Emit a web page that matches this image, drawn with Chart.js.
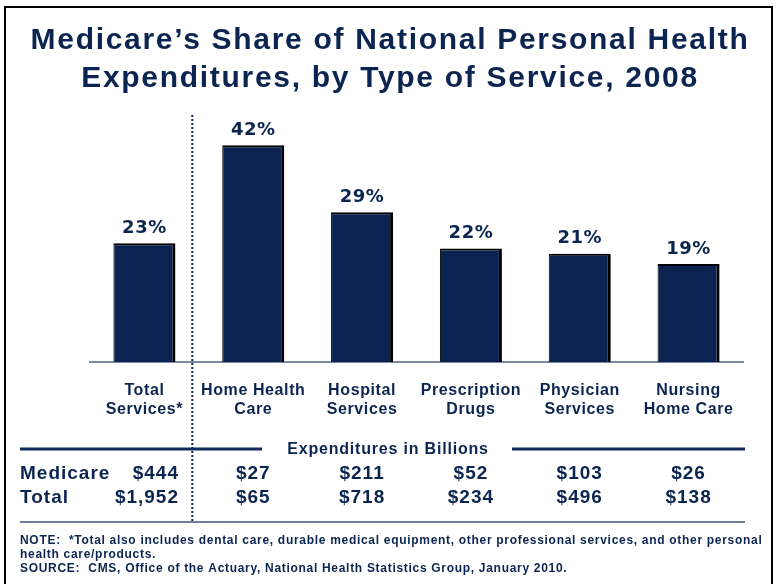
<!DOCTYPE html>
<html>
<head>
<meta charset="utf-8">
<title>Medicare's Share of National Personal Health Expenditures, 2008</title>
<script src="https://cdn.jsdelivr.net/npm/chart.js@4.4.1/dist/chart.umd.min.js"></script>
<style>
  html, body { margin: 0; padding: 0; background: #ffffff; }
  #wrap { position: relative; width: 776px; height: 584px; }
  canvas { display: block; }
</style>
</head>
<body>
<div id="wrap"><canvas id="chart" width="776" height="584"></canvas></div>
<script>
// Service categories (two-line axis labels)
const categories = [
  ['Total', 'Services*'],
  ['Home Health', 'Care'],
  ['Hospital', 'Services'],
  ['Prescription', 'Drugs'],
  ['Physician', 'Services'],
  ['Nursing', 'Home Care']
];
// Medicare share of spending, percent
const medicareShare = [23, 42, 29, 22, 21, 19];
// Expenditures in billions of dollars
const medicareSpending = [444, 27, 211, 52, 103, 26];
const totalSpending = [1952, 65, 718, 234, 496, 138];

const titleLines = [
  'Medicare\u2019s Share of National Personal Health',
  'Expenditures, by Type of Service, 2008'
];
const noteLines = [
  'NOTE:  *Total also includes dental care, durable medical equipment, other professional services, and other personal',
  'health care/products.',
  'SOURCE:  CMS, Office of the Actuary, National Health Statistics Group, January 2010.'
];

const NAVY = '#0b2550';
const BAR = '#0a2350';
const FONT = '"Liberation Sans", Arial, sans-serif';

const money = v => '$' + v.toLocaleString('en-US');

// slightly spaced lettering for the axis labels
const spacing = {
  id: 'spacing',
  beforeDraw(chart) { chart.ctx.letterSpacing = '0.6px'; }
};

const decorations = {
  id: 'decorations',
  afterDraw(chart) {
    const ctx = chart.ctx;
    const xs = chart.scales.x;
    ctx.save();

    // outer frame
    ctx.letterSpacing = '0px';
    ctx.strokeStyle = '#000000';
    ctx.lineWidth = 2;
    ctx.beginPath();
    ctx.moveTo(5, 600);
    ctx.lineTo(5, 7);
    ctx.lineTo(772, 7);
    ctx.lineTo(772, 600);
    ctx.stroke();

    // title
    ctx.fillStyle = NAVY;
    ctx.textAlign = 'center';
    ctx.textBaseline = 'middle';
    ctx.font = 'bold 30px ' + FONT;
    ctx.letterSpacing = '1.7px';
    ctx.fillText(titleLines[0], 390, 41);
    ctx.fillText(titleLines[1], 390, 79);

    // percentage labels above bars
    ctx.letterSpacing = '0.5px';
    ctx.font = 'bold 18px "DejaVu Sans", sans-serif';
    chart.getDatasetMeta(0).data.forEach((bar, i) => {
      ctx.fillText(medicareShare[i] + '%', bar.x, bar.y - 15);
    });

    // dotted divider between total and individual services
    const divX = xs.getPixelForValue(0) + (xs.getPixelForValue(1) - xs.getPixelForValue(0)) * 0.44;
    ctx.strokeStyle = NAVY;
    ctx.lineWidth = 2;
    ctx.setLineDash([2, 2]);
    ctx.beginPath();
    ctx.moveTo(divX, 115);
    ctx.lineTo(divX, 521);
    ctx.stroke();
    ctx.setLineDash([]);

    // table header rule with caption
    ctx.strokeStyle = '#0d2a5a';
    ctx.lineWidth = 3;
    ctx.beginPath();
    ctx.moveTo(20, 449); ctx.lineTo(262, 449);
    ctx.moveTo(512, 449); ctx.lineTo(745, 449);
    ctx.stroke();
    ctx.font = 'bold 16px ' + FONT;
    ctx.letterSpacing = '0.8px';
    ctx.fillText('Expenditures in Billions', 388, 450);

    // table rows
    const rows = [['Medicare', medicareSpending, 474], ['Total', totalSpending, 498]];
    ctx.font = 'bold 19px ' + FONT;
    ctx.letterSpacing = '1px';
    rows.forEach(([name, vals, y]) => {
      ctx.textAlign = 'left';
      ctx.fillText(name, 20, y);
      vals.forEach((v, i) => {
        if (i === 0) {
          ctx.textAlign = 'right';
          ctx.fillText(money(v), 179, y);
        } else {
          ctx.textAlign = 'center';
          ctx.fillText(money(v), xs.getPixelForValue(i), y);
        }
      });
    });

    // table bottom rule
    ctx.strokeStyle = '#6d7f99';
    ctx.lineWidth = 2;
    ctx.beginPath();
    ctx.moveTo(20, 522); ctx.lineTo(745, 522);
    ctx.stroke();

    // notes
    ctx.textAlign = 'left';
    ctx.font = 'bold 12px ' + FONT;
    ctx.letterSpacing = '0.7px';
    noteLines.forEach((t, i) => ctx.fillText(t, 20, 541 + i * 14));

    ctx.restore();
  }
};

new Chart(document.getElementById('chart'), {
  type: 'bar',
  data: {
    labels: categories,
    datasets: [{
      data: medicareShare,
      backgroundColor: BAR,
      borderColor: '#000000',
      borderWidth: { top: 2, right: 3, left: 1, bottom: 0 },
      borderSkipped: false,
      categoryPercentage: 1,
      barPercentage: 0.57
    }]
  },
  options: {
    responsive: false,
    devicePixelRatio: 1,
    animation: false,
    events: [],
    layout: { padding: { left: 90, right: 33, top: 104, bottom: 0 } },
    plugins: { legend: { display: false }, title: { display: false }, tooltip: { enabled: false } },
    scales: {
      x: {
        grid: { display: false, drawTicks: false },
        border: { display: true, color: '#7b8ba3', width: 2 },
        ticks: {
          color: NAVY,
          font: { family: FONT, size: 16, weight: 'bold', lineHeight: 1.2 },
          padding: 19,
          maxRotation: 0,
          autoSkip: false
        },
        afterFit(scale) { scale.height = 222; }
      },
      y: {
        display: false,
        min: 0,
        max: 50
      }
    }
  },
  plugins: [spacing, decorations]
});
</script>
</body>
</html>
